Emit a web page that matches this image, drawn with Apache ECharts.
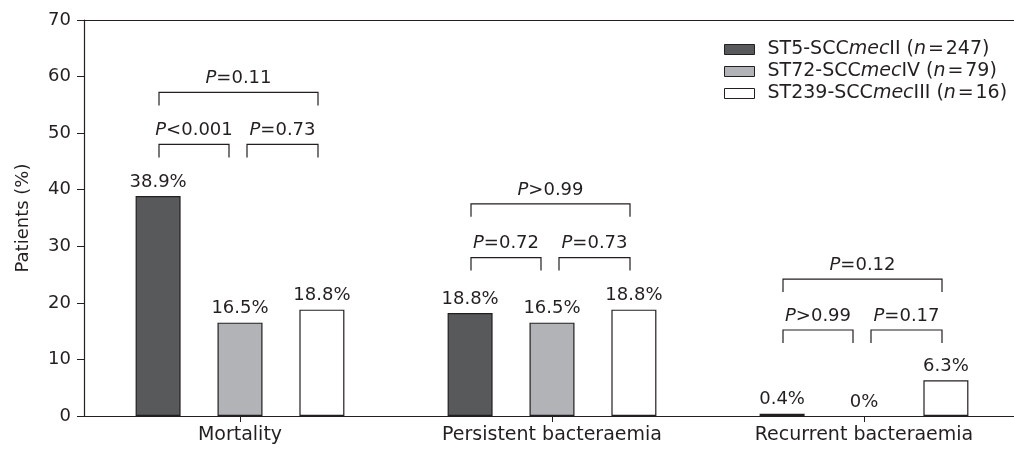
<!DOCTYPE html>
<html>
<head>
<meta charset="utf-8">
<script src="https://cdn.jsdelivr.net/npm/echarts@6/dist/echarts.min.js"></script>
<style>html,body{margin:0;padding:0;background:#fff;overflow:hidden}#c{width:1020px;height:452px}</style>
</head>
<body>
<div id="c"></div>
<script>
// ---- data ----
const categories = ['Mortality', 'Persistent bacteraemia', 'Recurrent bacteraemia'];
const seriesNames = ['ST5-SCCmecII (n=247)', 'ST72-SCCmecIV (n=79)', 'ST239-SCCmecIII (n=16)'];
const st5Values = [38.9, 18.2, 0.4];
const st72Values = [16.5, 16.5, 0];
const st239Values = [18.8, 18.8, 6.3];
const st5Labels = ['38.9%', '18.8%', '0.4%'];
const st72Labels = ['16.5%', '16.5%', '0%'];
const st239Labels = ['18.8%', '18.8%', '6.3%'];
const yTicks = [0, 10, 20, 30, 40, 50, 60, 70];
// P-values: ST5 vs ST72, ST72 vs ST239, ST5 vs ST239
const pST5vsST72 = ['<0.001', '=0.72', '>0.99'];
const pST72vsST239 = ['=0.73', '=0.73', '=0.17'];
const pST5vsST239 = ['=0.11', '>0.99', '=0.12'];
// bracket heights (in % units)
const lowerBracketY = [48.0, 28.0, 15.2];
const upperBracketY = [57.2, 37.5, 24.2];

// ---- styles ----
const FONT = 'DejaVu Sans';
const INK = '#231f20';
const colors = ['#58595b', '#b1b3b6', '#ffffff'];

const chart = echarts.init(document.getElementById('c'), null, {renderer: 'canvas'});

function barSeries(name, values, labels, color) {
  return {
    name: name,
    type: 'bar',
    barWidth: 45,
    barGap: '82%',
    data: values.map(v => v === 0 ? {value: v, itemStyle: {borderWidth: 0}} : v),
    itemStyle: {color: color, borderColor: INK, borderWidth: 1.2},
    label: {
      show: true, position: 'top', distance: 5,
      fontFamily: FONT, fontSize: 18, color: INK,
      formatter: p => labels[p.dataIndex]
    },
    emphasis: {disabled: true}
  };
}

function pText(s) {
  return '{i|P}{n|' + s + '}';
}

const bracketData = categories.map((c, i) => [i, lowerBracketY[i], upperBracketY[i]]);

function renderBracket(params, api) {
  const i = params.dataIndex;
  const cat = api.value(0);
  const lo = api.coord([cat, api.value(1)]);
  const up = api.coord([cat, api.value(2)]);
  const cx = lo[0];
  const leg = 13;
  const lStyle = {stroke: INK, lineWidth: 1.2, fill: null};
  function br(x1, x2, y) {
    return {type: 'polyline', shape: {points: [[x1, y + leg], [x1, y], [x2, y], [x2, y + leg]]}, style: lStyle, silent: true};
  }
  function txt(x, y, s) {
    return {type: 'text', x: x, y: y - 14, silent: true, style: {
      text: pText(s), align: 'center', verticalAlign: 'middle',
      rich: {
        i: {fontFamily: FONT, fontSize: 18, fontStyle: 'italic', fill: INK},
        n: {fontFamily: FONT, fontSize: 18, fill: INK}
      }
    }};
  }
  const aL = cx - 81, aR = cx - 11, bL = cx + 7, bR = cx + 78;
  return {type: 'group', children: [
    br(aL, aR, lo[1]), br(bL, bR, lo[1]), br(aL, bR, up[1]),
    txt((aL + aR) / 2, lo[1], pST5vsST72[i]),
    txt((bL + bR) / 2, lo[1], pST72vsST239[i]),
    txt((aL + bR) / 2, up[1], pST5vsST239[i])
  ]};
}

const legendRich = {
  a: {fontFamily: FONT, fontSize: 19, color: INK},
  i: {fontFamily: FONT, fontSize: 19, color: INK, fontStyle: 'italic'}
};
function legendFmt(name) {
  const m = name.match(/^(.*SCC)(mec)(\S+) \((n)=(\d+)\)$/);
  if (!m) return '{a|' + name + '}';
  return '{a|' + m[1] + '}{i|mec}{a|' + m[3] + ' (}{i|n}{a|\u200a=\u200a' + m[5] + ')}';
}

chart.setOption({
  animation: false,
  backgroundColor: '#fff',
  grid: {left: 84, width: 936, top: 20, height: 396, containLabel: false},
  legend: {
    orient: 'vertical', left: 719, top: 35,
    itemWidth: 30, itemHeight: 10, itemGap: 3,
    icon: 'rect',
    data: seriesNames,
    formatter: legendFmt,
    textStyle: {rich: legendRich, fontFamily: FONT, fontSize: 19, color: INK, padding: [0, 0, 0, 8]},
    itemStyle: {borderColor: INK, borderWidth: 1}
  },
  xAxis: [{
    type: 'category', data: categories, position: 'bottom',
    axisLine: {show: true, lineStyle: {color: INK, width: 1.2}},
    axisTick: {show: true, alignWithLabel: true, length: 6, lineStyle: {color: INK}},
    axisLabel: {fontFamily: FONT, fontSize: 19, color: INK, margin: 10, interval: 0}
  }, {
    type: 'category', data: categories, position: 'top',
    axisLine: {show: true, lineStyle: {color: INK, width: 1.2}},
    axisTick: {show: false}, axisLabel: {show: false}
  }],
  yAxis: {
    type: 'value', min: yTicks[0], max: yTicks[yTicks.length - 1], interval: yTicks[1] - yTicks[0],
    name: 'Patients (%)', nameLocation: 'middle', nameGap: 52, nameRotate: 90,
    nameTextStyle: {fontFamily: FONT, fontSize: 18, color: INK},
    axisLine: {show: true, lineStyle: {color: INK, width: 1.2}},
    axisTick: {show: true, length: 7, lineStyle: {color: INK}},
    axisLabel: {fontFamily: FONT, fontSize: 18, color: INK, margin: 13},
    splitLine: {show: false}
  },
  series: [
    barSeries(seriesNames[0], st5Values, st5Labels, colors[0]),
    barSeries(seriesNames[1], st72Values, st72Labels, colors[1]),
    barSeries(seriesNames[2], st239Values, st239Labels, colors[2]),
    {
      type: 'custom', name: 'brackets', coordinateSystem: 'cartesian2d',
      renderItem: renderBracket, data: bracketData,
      encode: {x: 0, y: 1}, clip: false, silent: true, z: 5
    }
  ]
});
</script>
</body>
</html>
